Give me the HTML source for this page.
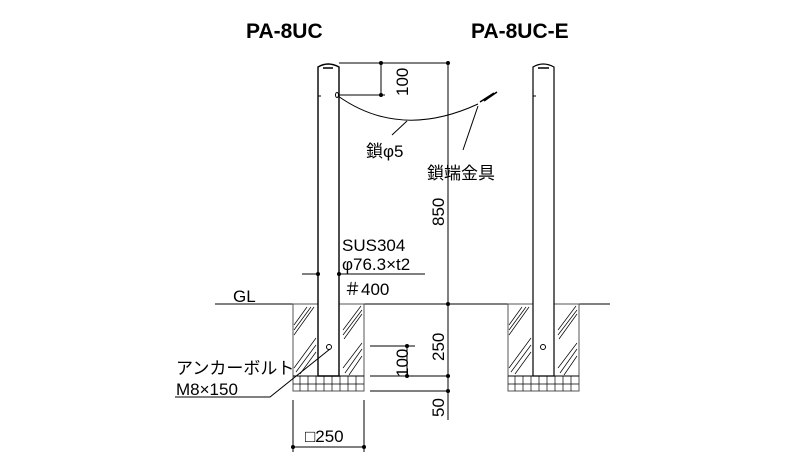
<!DOCTYPE html><html><head><style>body{margin:0;background:#fff}svg{display:block}text{font-family:"Liberation Sans","Noto Sans CJK JP",sans-serif;fill:#000}</style></head><body>
<svg width="800" height="465" viewBox="0 0 800 465" xmlns="http://www.w3.org/2000/svg">
<text x="246" y="38" font-size="21" font-weight="bold">PA-8UC</text>
<text x="471" y="38" font-size="21" font-weight="bold">PA-8UC-E</text>
<g stroke="#000" fill="none" stroke-width="1">
<line x1="215" y1="304" x2="293" y2="304"/><line x1="364" y1="304" x2="508" y2="304"/><line x1="579" y1="304" x2="610" y2="304"/>
<rect x="293" y="304" width="71" height="87" fill="#fff" stroke="#555"/>
<line x1="293" y1="376" x2="364" y2="376"/>
<rect x="508" y="304" width="71" height="87" fill="#fff" stroke="#555"/>
<line x1="508" y1="376" x2="579" y2="376"/>
<g stroke-width="0.7">
<path d="M294 325 L307 307 M294 330 L311 307 M294 335 L314 307 M294 368 L316 338 M296 372 L316 345 M300 374 L316 352 M343 330 L361 306 M343 335 L362 310 M344 339 L362 314 M343 368 L362 343 M345 373 L362 349 M349 375 L362 356"/>
<path d="M509 325 L522 307 M509 330 L526 307 M509 335 L529 307 M509 368 L531 338 M511 372 L531 345 M515 374 L531 352 M558 330 L576 306 M558 335 L577 310 M559 339 L577 314 M558 368 L577 343 M560 373 L577 349 M564 375 L577 356"/>
</g>
<g stroke-width="0.7">
<path d="M293 384 h71 M300 376v15 M308 376v15 M316 376v15 M324 376v15 M332 376v15 M340 376v15 M348 376v15 M356 376v15"/>
<path d="M508 384 h71 M515 376v15 M523 376v15 M531 376v15 M539 376v15 M547 376v15 M555 376v15 M563 376v15 M571 376v15"/>
</g>
<path d="M318 376 V67 Q328 61 339 67 V376 Z" fill="#fff" stroke-width="1.4"/>
<line x1="323" y1="68" x2="333" y2="68" stroke-width="1.5"/>
<line x1="318" y1="96" x2="321" y2="96"/>
<path d="M533 376 V67 Q543 61 554 67 V376 Z" fill="#fff" stroke-width="1.2"/>
<line x1="538" y1="68" x2="549" y2="68" stroke-width="1.5"/>
<line x1="533" y1="96" x2="536" y2="96"/>
<circle cx="329" cy="347" r="2.5"/><circle cx="543" cy="347" r="2.5"/>
<ellipse cx="337" cy="95" rx="1.5" ry="2.5"/>
<path d="M338 96 Q400 140 478 104"/>
<path d="M480 102 L494 93 M484 101 L497 92" stroke-width="1.5"/>
<line x1="407" y1="121" x2="392" y2="135"/>
<line x1="478" y1="106" x2="463" y2="150"/>
<line x1="339" y1="63" x2="448" y2="63"/>
<line x1="448" y1="63" x2="448" y2="420"/>
<line x1="339" y1="95" x2="385" y2="95"/>
<line x1="381" y1="63" x2="381" y2="95"/>
<line x1="370" y1="346" x2="415" y2="346"/>
<line x1="407" y1="346" x2="407" y2="376"/>
<line x1="370" y1="376" x2="450" y2="376"/>
<line x1="370" y1="391" x2="450" y2="391"/>
<line x1="302" y1="274" x2="318" y2="274"/><line x1="339" y1="274" x2="425" y2="274"/>
<line x1="293" y1="400" x2="293" y2="452"/><line x1="364" y1="400" x2="364" y2="452"/>
<line x1="293" y1="447" x2="364" y2="447"/>
<path d="M175 397 L270 397 L330 349"/>
</g>
<g fill="#000">
<circle cx="448" cy="63" r="2"/><circle cx="381" cy="63" r="2"/><circle cx="381" cy="95" r="2"/>
<circle cx="448" cy="304" r="2"/><circle cx="448" cy="376" r="2"/><circle cx="448" cy="391" r="2"/>
<circle cx="407" cy="346" r="2"/><circle cx="407" cy="376" r="2"/>
<circle cx="318" cy="274" r="2"/><circle cx="339" cy="274" r="2"/>
<circle cx="293" cy="447" r="2"/><circle cx="364" cy="447" r="2"/>
</g>
<g font-size="17">
<text transform="translate(408,96) rotate(-90)">100</text>
<text transform="translate(444,226) rotate(-90)">850</text>
<text transform="translate(444,361) rotate(-90)">250</text>
<text transform="translate(408,377) rotate(-90)">100</text>
<text transform="translate(444,417) rotate(-90)">50</text>
<text x="366" y="157">鎖φ5</text>
<text x="427" y="179">鎖端金具</text>
<text x="342" y="251">SUS304</text>
<text x="342" y="270">φ76.3×t2</text>
<text x="344" y="295">＃400</text>
<text x="233" y="302">GL</text>
<text x="176" y="374">アンカーボルト</text>
<text x="176" y="395">M8×150</text>
<text x="305" y="442">□250</text>
</g>
</svg></body></html>
